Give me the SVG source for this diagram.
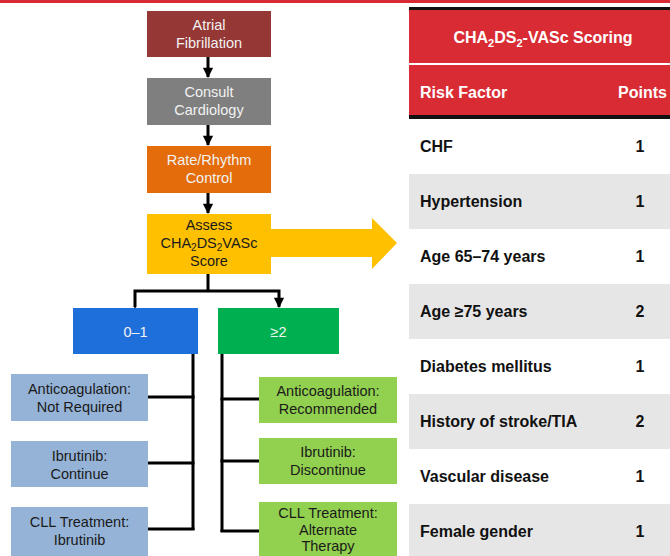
<svg xmlns="http://www.w3.org/2000/svg" width="670" height="556" viewBox="0 0 670 556">
<style>
  .t { font-family: "Liberation Sans", Arial, sans-serif; font-size: 14.5px; text-anchor: middle; }
  .w { fill: #F2F2F2; }
  .d { fill: #1a1a1a; }
  .c { fill: none; stroke: #000; stroke-width: 3; }
  .tb { font-family: "Liberation Sans", Arial, sans-serif; font-size: 16px; font-weight: bold; fill: #111; }
  .th { font-family: "Liberation Sans", Arial, sans-serif; font-size: 16px; font-weight: bold; fill: #fff; }
  .g { fill: #E6E6E6; }
</style>
<defs>
  <marker id="ah" viewBox="0 0 10 10" refX="9" refY="5" markerWidth="4" markerHeight="3.4" orient="auto" markerUnits="strokeWidth">
    <path d="M0,0 L10,5 L0,10 z" fill="#000"/>
  </marker>
</defs>
<rect x="0" y="0" width="670" height="556" fill="#fff"/>
<rect x="0" y="0" width="670" height="3" fill="#D92B34"/>

<g id="connectors">
  <line class="c" x1="208" y1="57" x2="208" y2="77" marker-end="url(#ah)"/>
  <line class="c" x1="208" y1="125" x2="208" y2="145" marker-end="url(#ah)"/>
  <line class="c" x1="208" y1="193" x2="208" y2="213" marker-end="url(#ah)"/>
  <polyline class="c" points="208,274 208,291"/>
  <polyline class="c" points="135,307 135,291 279,291 279,307" marker-start="url(#ah)" marker-end="url(#ah)"/>
  <polyline class="c" points="193,354 193,530"/>
  <line class="c" x1="148" y1="397" x2="194.5" y2="397"/>
  <line class="c" x1="148" y1="463" x2="194.5" y2="463"/>
  <line class="c" x1="148" y1="529" x2="194.5" y2="529"/>
  <polyline class="c" points="222,354 222,532"/>
  <line class="c" x1="220.5" y1="399" x2="259" y2="399"/>
  <line class="c" x1="220.5" y1="461" x2="259" y2="461"/>
  <line class="c" x1="220.5" y1="531" x2="259" y2="531"/>
  <polygon points="271,229 372,229 372,218 397,243 372,269 372,257 271,257" fill="#FFC000"/>
</g>

<g id="atrial-fibrillation">
  <rect x="147" y="11" width="124" height="46" fill="#953735"/>
  <text class="t w" x="209" y="30">Atrial</text>
  <text class="t w" x="209" y="48">Fibrillation</text>
</g>
<g id="consult-cardiology">
  <rect x="147" y="78" width="124" height="47" fill="#7F7F7F"/>
  <text class="t w" x="209" y="97">Consult</text>
  <text class="t w" x="209" y="115">Cardiology</text>
</g>
<g id="rate-rhythm">
  <rect x="147" y="146" width="124" height="47" fill="#E46C0A"/>
  <text class="t w" x="209" y="165">Rate/Rhythm</text>
  <text class="t w" x="209" y="183">Control</text>
</g>
<g id="assess">
  <rect x="147" y="214" width="124" height="60" fill="#FFC000"/>
  <text class="t d" x="209" y="230">Assess</text>
  <text class="t d" x="209" y="248">CHA<tspan font-size="10" dy="3">2</tspan><tspan dy="-3">DS</tspan><tspan font-size="10" dy="3">2</tspan><tspan dy="-3">VASc</tspan></text>
  <text class="t d" x="209" y="266">Score</text>
</g>
<g id="score-0-1">
  <rect x="73" y="308" width="125" height="46" fill="#1F6FDB"/>
  <text class="t w" x="135.5" y="337">0–1</text>
</g>
<g id="score-2plus">
  <rect x="218" y="308" width="121" height="46" fill="#00B050"/>
  <text class="t w" x="278.5" y="337">≥2</text>
</g>

<g id="anticoag-not-required">
  <rect x="11" y="374" width="137" height="47" fill="#95B3D7"/>
  <text class="t d" x="79.5" y="394">Anticoagulation:</text>
  <text class="t d" x="79.5" y="412">Not Required</text>
</g>
<g id="ibrutinib-continue">
  <rect x="11" y="441" width="137" height="46" fill="#95B3D7"/>
  <text class="t d" x="79.5" y="461">Ibrutinib:</text>
  <text class="t d" x="79.5" y="479">Continue</text>
</g>
<g id="cll-ibrutinib">
  <rect x="11" y="507" width="137" height="49" fill="#95B3D7"/>
  <text class="t d" x="79.5" y="527">CLL Treatment:</text>
  <text class="t d" x="79.5" y="545">Ibrutinib</text>
</g>

<g id="anticoag-recommended">
  <rect x="259" y="377" width="138" height="46" fill="#92D050"/>
  <text class="t d" x="328" y="396">Anticoagulation:</text>
  <text class="t d" x="328" y="414">Recommended</text>
</g>
<g id="ibrutinib-discontinue">
  <rect x="259" y="438" width="138" height="46" fill="#92D050"/>
  <text class="t d" x="328" y="457">Ibrutinib:</text>
  <text class="t d" x="328" y="475">Discontinue</text>
</g>
<g id="cll-alternate">
  <rect x="259" y="502" width="138" height="60" fill="#92D050"/>
  <text class="t d" x="328" y="518">CLL Treatment:</text>
  <text class="t d" x="328" y="535">Alternate</text>
  <text class="t d" x="328" y="551">Therapy</text>
</g>

<g id="score-table">
  <rect x="409" y="7" width="261" height="3" fill="#111"/>
  <rect x="409" y="10" width="261" height="53" fill="#D92B34"/>
  <rect x="409" y="63" width="261" height="2" fill="#fff"/>
  <rect x="409" y="65" width="261" height="50" fill="#D92B34"/>
  <rect x="409" y="115" width="261" height="4" fill="#111"/>
  <text class="th" x="543" y="43" text-anchor="middle">CHA<tspan font-size="11" dy="4">2</tspan><tspan dy="-4">DS</tspan><tspan font-size="11" dy="4">2</tspan><tspan dy="-4">-VASc Scoring</tspan></text>
  <text class="th" x="420" y="98">Risk Factor</text>
  <text class="th" x="667" y="98" text-anchor="end">Points</text>

  <rect class="g" x="409" y="174" width="261" height="55"/>
  <rect class="g" x="409" y="284" width="261" height="55"/>
  <rect class="g" x="409" y="394" width="261" height="55"/>
  <rect class="g" x="409" y="504" width="261" height="52"/>

  <text class="tb" x="420" y="152">CHF</text>
  <text class="tb" x="640" y="152" text-anchor="middle">1</text>
  <text class="tb" x="420" y="207">Hypertension</text>
  <text class="tb" x="640" y="207" text-anchor="middle">1</text>
  <text class="tb" x="420" y="262">Age 65–74 years</text>
  <text class="tb" x="640" y="262" text-anchor="middle">1</text>
  <text class="tb" x="420" y="317">Age ≥75 years</text>
  <text class="tb" x="640" y="317" text-anchor="middle">2</text>
  <text class="tb" x="420" y="372">Diabetes mellitus</text>
  <text class="tb" x="640" y="372" text-anchor="middle">1</text>
  <text class="tb" x="420" y="427">History of stroke/TIA</text>
  <text class="tb" x="640" y="427" text-anchor="middle">2</text>
  <text class="tb" x="420" y="482">Vascular disease</text>
  <text class="tb" x="640" y="482" text-anchor="middle">1</text>
  <text class="tb" x="420" y="537">Female gender</text>
  <text class="tb" x="640" y="537" text-anchor="middle">1</text>
</g>
</svg>
